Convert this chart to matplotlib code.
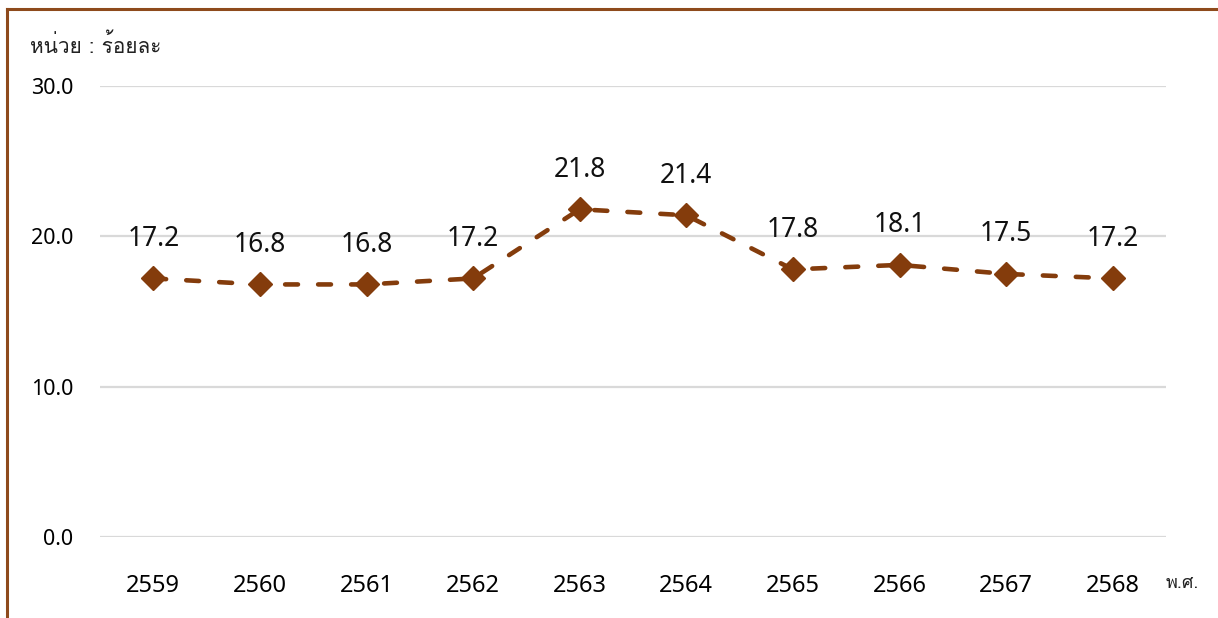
import numpy as np
import matplotlib
matplotlib.use('Agg')
import matplotlib.pyplot as plt
from matplotlib import font_manager
from matplotlib.ft2font import FT2Font
from matplotlib.lines import Line2D

years = ['2559', '2560', '2561', '2562', '2563', '2564', '2565', '2566', '2567', '2568']
values = [17.2, 16.8, 16.8, 17.2, 21.8, 21.4, 17.8, 18.1, 17.5, 17.2]
yticks = [0, 10, 20, 30]
unit_label = 'หน่วย : ร้อยละ'
x_unit = 'พ.ศ.'


# look for an installed family that has Thai glyphs
def find_thai_family():
    found = []
    for fe in font_manager.fontManager.ttflist:
        try:
            cmap = FT2Font(fe.fname).get_charmap()
        except Exception:
            continue
        if 0x0E2B in cmap and 0x0E28 in cmap:
            found.append(fe.name)
    return found[0] if found else 'DejaVu Sans'


thai_family = find_thai_family()
num_family = 'Noto Sans'

brown = '#843C0C'
frame_col = '#8E4A1C'

fig = plt.figure(figsize=(12.18, 6.18), dpi=100)
ax = fig.add_axes([100 / 1218, 1 - 537 / 618, 1066 / 1218, 451 / 618])

x = np.arange(len(years))
ax.plot(x, values, color=brown, lw=3.3, ls=(0, (2.8, 4.4)), dash_capstyle='round',
        marker='D', ms=12.5, mfc=brown, mec=brown, clip_on=False, zorder=3)

for xi, v in zip(x, values):
    ax.annotate(f'{v:.1f}', (xi, v), xytext=(0, 18.5), textcoords='offset points',
                ha='center', va='bottom', fontsize=19, family=num_family, color='#111111')

ax.set_xlim(-0.5, len(years) - 0.5)
ax.set_ylim(0, 30)
ax.set_yticks(yticks)
ax.set_yticklabels([f'{t:.1f}' for t in yticks], fontsize=15.5, family=num_family)
ax.set_xticks(x)
ax.set_xticklabels(years, fontsize=17, family=num_family)
ax.tick_params(axis='y', length=0, pad=19)
ax.tick_params(axis='x', length=0, pad=27)
ax.grid(axis='y', color='#d9d9d9', lw=1.6)
ax.set_axisbelow(True)
for s in ax.spines.values():
    s.set_visible(False)

fig.text(30 / 1218, 1 - 45 / 618, unit_label, fontsize=15, family=[thai_family, 'DejaVu Sans'],
         ha='left', va='center', color='#222222')
fig.text(1166 / 1218, 1 - 583 / 618, x_unit, fontsize=13, family=[thai_family, 'DejaVu Sans'],
         ha='left', va='center', color='#222222')

# outer frame (top and left edges)
fig.add_artist(Line2D([7 / 1218, 1], [1 - 9 / 618, 1 - 9 / 618], transform=fig.transFigure,
                      color=frame_col, lw=2.2))
fig.add_artist(Line2D([7 / 1218, 7 / 1218], [0, 1 - 9 / 618], transform=fig.transFigure,
                      color=frame_col, lw=2.2))

fig.savefig('out.png', dpi=100)
